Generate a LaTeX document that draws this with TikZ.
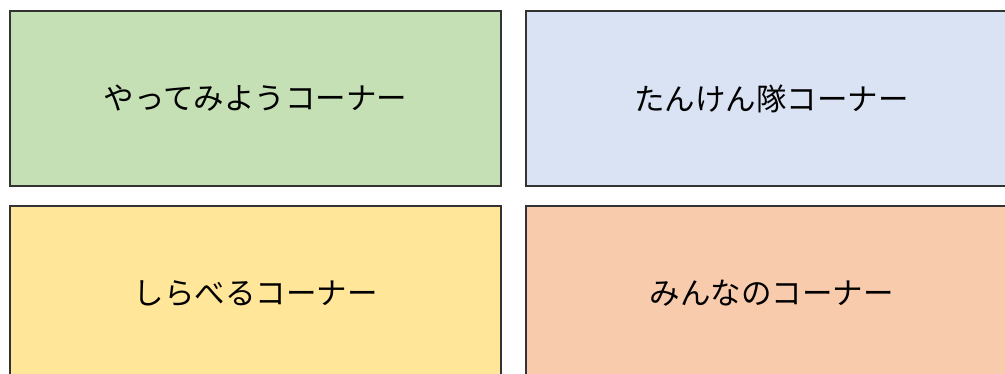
\documentclass[tikz,border=0pt]{standalone}
\usepackage{fontspec}
\newfontfamily\cjk{Noto Sans CJK JP}
\definecolor{cgreen}{HTML}{C5E0B4}
\definecolor{cblue}{HTML}{DAE3F3}
\definecolor{cyellow}{HTML}{FFE699}
\definecolor{corange}{HTML}{F8CBAD}
\definecolor{cborder}{HTML}{333333}
\begin{document}
\begin{tikzpicture}[x=1pt,y=-1pt,
  corner/.style={draw=cborder,line width=1.2pt,minimum width=491pt,minimum height=175pt,inner sep=0pt,font=\cjk\fontsize{30.5}{34}\selectfont,text=black}]
\useasboundingbox (0,0) rectangle (1005,373);
\begin{scope}
\clip (0,0) rectangle (1005,373);
\node[corner,fill=cgreen] (a) at (255.5,98.5) {\raisebox{-1.5pt}{やってみようコーナー}};
\node[corner,fill=cblue] (b) at (771.5,98.5) {\raisebox{-1.5pt}{たんけん隊コーナー}};
\node[corner,fill=cyellow] (c) at (255.5,293.5) {\raisebox{-1.5pt}{しらべるコーナー}};
\node[corner,fill=corange] (d) at (771.5,293.5) {\raisebox{-1.5pt}{みんなのコーナー}};
\end{scope}
\end{tikzpicture}
\end{document}
